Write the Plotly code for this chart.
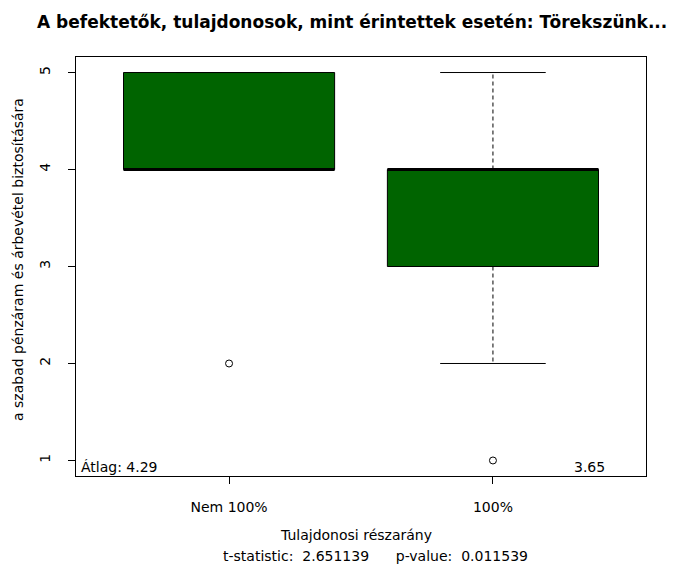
import plotly.graph_objects as go

# Summary statistics per ownership group (boxplot of survey answers, scale 1-5)
groups = ["Nem 100%", "100%"]
positions = [1, 2]
q1 = [4, 3]
medians = [4, 4]
q3 = [5, 4]
whisker_lo = [4, 2]
whisker_hi = [5, 5]
outliers = [[2], [1]]
means = [4.29, 3.65]
t_stat = 2.651139
p_value = 0.011539

BOX_W = 0.8
CAP_W = 0.4
FILL = "#006400"
FONT = "DejaVu Sans, sans-serif"

fig = go.Figure()

for pos, a, m, b, lo, hi, outs in zip(positions, q1, medians, q3, whisker_lo, whisker_hi, outliers):
    # box body
    fig.add_trace(go.Box(
        x=[pos], q1=[a], median=[m], q3=[b], lowerfence=[a], upperfence=[b],
        width=BOX_W, fillcolor=FILL, line=dict(color="black", width=1),
        boxpoints=False, hoverinfo="skip", showlegend=False,
    ))
    # dashed whiskers
    for end, edge in ((hi, b), (lo, a)):
        if end != edge:
            fig.add_trace(go.Scatter(
                x=[pos, pos], y=[edge, end], mode="lines",
                line=dict(color="black", width=1, dash="4px,3px"),
                hoverinfo="skip", showlegend=False,
            ))
        # staple
        fig.add_trace(go.Scatter(
            x=[pos - CAP_W / 2, pos + CAP_W / 2], y=[end, end], mode="lines",
            line=dict(color="black", width=1),
            hoverinfo="skip", showlegend=False,
        ))
    # thick median line
    fig.add_trace(go.Scatter(
        x=[pos - BOX_W / 2, pos + BOX_W / 2], y=[m, m], mode="lines",
        line=dict(color="black", width=3),
        hoverinfo="skip", showlegend=False,
    ))
    # outliers
    fig.add_trace(go.Scatter(
        x=[pos] * len(outs), y=outs, mode="markers",
        marker=dict(symbol="circle-open", size=7, color="black", line=dict(width=1)),
        hoverinfo="skip", showlegend=False,
    ))

L, R, T, B = 76, 34, 57, 90
W, H = 680, 566
pw, ph = W - L - R, H - T - B


def px(x):
    return (x - L) / pw


def py(y):
    return (H - B - y) / ph


annotations = [
    dict(text="A befektetők, tulajdonosok, mint érintettek esetén: Törekszünk...",
         x=px(352), y=py(22), xref="paper", yref="paper", showarrow=False,
         xanchor="center", yanchor="middle",
         font=dict(family=FONT, size=17, color="black", weight="bold")),
    dict(text="a szabad pénzáram és árbevétel biztosítására",
         x=px(18), y=py(260), xref="paper", yref="paper", showarrow=False,
         textangle=-90, xanchor="center", yanchor="middle",
         font=dict(family=FONT, size=14, color="black")),
    dict(text="Tulajdonosi részarány",
         x=px(356), y=py(535), xref="paper", yref="paper", showarrow=False,
         xanchor="center", yanchor="middle",
         font=dict(family=FONT, size=14, color="black")),
    dict(text=f"t-statistic:  {t_stat:.6f}      p-value:  {p_value:.6f}",
         x=px(375), y=py(556), xref="paper", yref="paper", showarrow=False,
         xanchor="center", yanchor="middle",
         font=dict(family=FONT, size=14, color="black")),
    dict(text=f"Átlag: {means[0]:.2f}",
         x=px(79), y=py(467), xref="paper", yref="paper", showarrow=False,
         xanchor="left", yanchor="middle",
         font=dict(family=FONT, size=14, color="black")),
    dict(text=f"{means[1]:.2f}",
         x=px(589), y=py(467), xref="paper", yref="paper", showarrow=False,
         xanchor="center", yanchor="middle",
         font=dict(family=FONT, size=14, color="black")),
]

fig.update_layout(
    width=W, height=H,
    margin=dict(l=L, r=R, t=T, b=B),
    paper_bgcolor="white", plot_bgcolor="white",
    font=dict(family=FONT, size=14, color="black"),
    showlegend=False,
    annotations=annotations,
    xaxis=dict(
        range=[0.42, 2.58], tickvals=positions, ticktext=groups,
        showgrid=False, zeroline=False,
        showline=True, mirror=True, linecolor="black", linewidth=1,
        ticks="outside", ticklen=7, tickcolor="black",
        tickfont=dict(family=FONT, size=14), ticklabelstandoff=11,
    ),
    yaxis=dict(
        range=[0.84, 5.16], tickvals=[1, 2, 3, 4, 5],
        showgrid=False, zeroline=False,
        showline=True, mirror=True, linecolor="black", linewidth=1,
        ticks="outside", ticklen=7, tickcolor="black", tickangle=-90,
        tickfont=dict(family=FONT, size=14), ticklabelstandoff=12,
    ),
)

fig.write_html("out.html")
